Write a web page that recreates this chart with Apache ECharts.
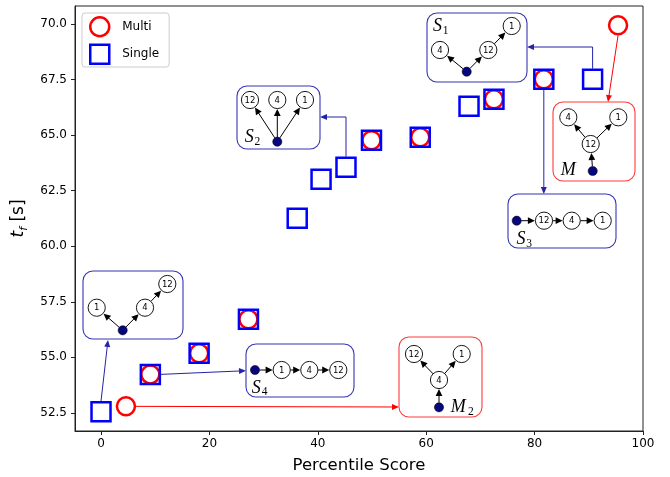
<!DOCTYPE html>
<html><head><meta charset="utf-8">
<script src="https://cdn.jsdelivr.net/npm/echarts@6/dist/echarts.min.js"></script>
<style>html,body{margin:0;padding:0;background:#fff}#c{width:670px;height:477px}</style>
</head><body><div id="c"></div>
<script>
// ---- data ----
const singleX = [0, 9.1, 18.1, 27.2, 36.2, 40.6, 45.2, 49.9, 58.9, 67.9, 72.5, 81.7, 90.7];
const singleY = [52.55, 54.23, 55.18, 56.71, 61.26, 63.02, 63.56, 64.77, 64.91, 66.31, 66.62, 67.52, 67.52];
const multiX = [4.6, 9.1, 18.1, 27.2, 49.9, 58.9, 72.5, 81.7, 95.4];
const multiY = [52.79, 54.23, 55.18, 56.71, 64.77, 64.91, 66.62, 67.52, 69.95];
const xTicks = [0, 20, 40, 60, 80, 100];
const yTicks = [52.5, 55, 57.5, 60, 62.5, 65, 67.5, 70];

// ---- inset layout (annotation graphics, pixel layout) ----
const insets = [
  {box:[83,271,100,68], kind:'s', label:null,
   nodes:{d:[39.7,59.3], n1:[13.7,36.7], n4:[62,36.7], n12:[84.3,13]},
   edges:[['d','n1'],['d','n4'],['n4','n12']]},
  {box:[237,86,83,63], kind:'s', label:['S','2'], lab:[12.2,51.5],
   nodes:{n12:[13,14], n4:[40.3,14], n1:[68,14], d:[40.3,55.7]},
   edges:[['d','n12'],['d','n4'],['d','n1']]},
  {box:[246,344,108,53], kind:'s', label:['S','4'], lab:[10.3,43.8],
   nodes:{d:[9,26], n1:[35.7,26], n4:[63.3,26], n12:[92.3,26]},
   edges:[['d','n1'],['n1','n4'],['n4','n12']]},
  {box:[399,337,83,80], kind:'m', label:['M','2'], lab:[59.3,70.2],
   nodes:{n12:[15,17], n1:[62.7,17], n4:[40,43], d:[40,70.3]},
   edges:[['d','n4'],['n4','n12'],['n4','n1']]},
  {box:[508,194,108,54], kind:'s', label:['S','3'], lab:[13,45.7],
   nodes:{d:[8.7,26.7], n12:[36,26.7], n4:[63.7,26.7], n1:[94.7,26.7]},
   edges:[['d','n12'],['n12','n4'],['n4','n1']]},
  {box:[427,13,100,69], kind:'s', label:['S','1'], lab:[10.5,13.2],
   nodes:{n4:[13,37], n12:[61.3,37], n1:[84.7,13], d:[39.7,58.7]},
   edges:[['d','n4'],['d','n12'],['n12','n1']]},
  {box:[553,102,82,79], kind:'m', label:['M',''], lab:[15.3,68],
   nodes:{n4:[15.3,15.3], n1:[65.3,15.3], n12:[37.7,42], d:[39.7,69]},
   edges:[['d','n12'],['n12','n4'],['n12','n1']]}
];
const connectors = [
  {s:0, i:0, off:[0,-10.5], pts:[[108,340]], c:'b'},
  {s:0, i:6, off:[0,-10.5], pts:[['sx',117],[320,117]], c:'b'},
  {s:0, i:1, off:[10.5,0], pts:[[246,370.7]], c:'b'},
  {s:1, i:0, off:[10,0], pts:[[399,407]], c:'r'},
  {s:0, i:11, off:[0,10.5], pts:[['sx',194]], c:'b'},
  {s:0, i:12, off:[0,-10.5], pts:[['sx',47],[527,47]], c:'b'},
  {s:1, i:8, off:[0,10], pts:[[608,102]], c:'r'}
];

const FONT = '"DejaVu Sans", sans-serif';
const chart = echarts.init(document.getElementById('c'), null, {renderer:'canvas'});
const axisCol = '#222';
chart.setOption({
  animation:false,
  backgroundColor:'#fff',
  grid:{left:75, right:27, top:6, bottom:46, show:true, borderColor:axisCol, borderWidth:1,
    containLabel:false, outerBoundsMode:'none'},
  legend:{left:82, top:13, orient:'vertical', itemWidth:19, itemHeight:19, itemGap:6,
    padding:[3,10,2,7], borderColor:'#cccccc', borderWidth:1, borderRadius:3, backgroundColor:'#fff',
    textStyle:{fontSize:12, fontFamily:FONT, color:'#000', padding:[0,0,0,8]},
    itemStyle:{borderWidth:2.5}, data:['Multi','Single']},
  xAxis:{type:'value', min:-4.8, max:100,
    axisLine:{show:true, onZero:false, lineStyle:{color:axisCol}},
    axisTick:{show:true, length:4, customValues:xTicks, lineStyle:{color:axisCol}},
    axisLabel:{customValues:xTicks, margin:7, fontSize:12, color:'#000', fontFamily:FONT},
    splitLine:{show:false},
    name:'Percentile Score', nameLocation:'middle', nameGap:26,
    nameTextStyle:{fontSize:16.5, fontFamily:FONT, color:'#000'}},
  yAxis:{type:'value', min:51.68, max:70.82,
    axisLine:{show:true, onZero:false, lineStyle:{color:axisCol}},
    axisTick:{show:true, length:4, customValues:yTicks, lineStyle:{color:axisCol}},
    axisLabel:{customValues:yTicks, margin:8, fontSize:12, color:'#000', fontFamily:FONT,
      formatter:v=>v.toFixed(1)},
    splitLine:{show:false},
    name:'{t|t}{f|f}{s| [s]}', nameLocation:'middle', nameGap:36,
    nameTextStyle:{fontSize:16, fontFamily:FONT, color:'#000',
      rich:{t:{fontStyle:'italic', fontSize:17, fontFamily:FONT, color:'#000', lineHeight:22},
            f:{fontStyle:'italic', fontSize:11, fontFamily:FONT, color:'#000', lineHeight:9, verticalAlign:'bottom'},
            s:{fontSize:17, fontFamily:FONT, color:'#000', lineHeight:22}}}},
  series:[
    {name:'Multi', type:'scatter', data:multiX.map((x,i)=>[x,multiY[i]]), symbol:'circle', symbolSize:18,
     itemStyle:{color:'rgba(255,255,255,0)', borderColor:'#ff0000', borderWidth:2.5, opacity:1}, z:2,
     emphasis:{disabled:true}},
    {name:'Single', type:'scatter', data:singleX.map((x,i)=>[x,singleY[i]]), symbol:'rect', symbolSize:19,
     itemStyle:{color:'rgba(255,255,255,0)', borderColor:'#0000ff', borderWidth:2.5, opacity:1}, z:3,
     emphasis:{disabled:true}}
  ]
});

// ---- annotation graphics ----
const BLUE_BOX = '#3535b5', RED_BOX = '#ff3a3a', BLUE_LN = '#2424a6', RED_LN = '#ff0000', NAVY = '#06067e';
function arrow(x1,y1,x2,y2,color,lw,hl,hw,z){
  const dx=x2-x1, dy=y2-y1, L=Math.hypot(dx,dy), ux=dx/L, uy=dy/L;
  const bx=x2-ux*hl, by=y2-uy*hl;
  return [
    {type:'line', silent:true, z, shape:{x1,y1,x2:bx+ux*1,y2:by+uy*1}, style:{stroke:color, lineWidth:lw}},
    {type:'polygon', silent:true, z, shape:{points:[[x2,y2],[bx-uy*hw,by+ux*hw],[bx+uy*hw,by-ux*hw]]}, style:{fill:color}}
  ];
}
const els = [];
const NR = 8.6, DR = 4.6;
insets.forEach(ins=>{
  const [bx,by,bw,bh] = ins.box;
  els.push({type:'rect', silent:true, z:20, shape:{x:bx,y:by,width:bw,height:bh,r:10},
    style:{fill:'#fff', stroke: ins.kind==='m'?RED_BOX:BLUE_BOX, lineWidth:1.1}});
  ins.edges.forEach(([a,b])=>{
    const pa=ins.nodes[a], pb=ins.nodes[b];
    const x1=bx+pa[0], y1=by+pa[1], x2=bx+pb[0], y2=by+pb[1];
    const L=Math.hypot(x2-x1,y2-y1), ux=(x2-x1)/L, uy=(y2-y1)/L;
    const ra = a==='d'?DR:NR, rb = b==='d'?DR:NR;
    els.push(...arrow(x1+ux*ra, y1+uy*ra, x2-ux*(rb+0.5), y2-uy*(rb+0.5), '#000', 1, 7, 3.4, 21));
  });
  Object.keys(ins.nodes).forEach(k=>{
    const p=ins.nodes[k];
    if(k==='d'){
      els.push({type:'circle', silent:true, z:22, shape:{cx:bx+p[0], cy:by+p[1], r:DR}, style:{fill:NAVY, stroke:'#000', lineWidth:0.5}});
    } else {
      els.push({type:'circle', silent:true, z:22, shape:{cx:bx+p[0], cy:by+p[1], r:NR}, style:{fill:'#fff', stroke:'#000', lineWidth:0.9}});
      els.push({type:'text', silent:true, z:23, x:bx+p[0], y:by+p[1]+0.5,
        style:{text:k.slice(1), fill:'#000', font:'8.5px "DejaVu Sans"', align:'center', verticalAlign:'middle'}});
    }
  });
  if(ins.label){
    const lx=bx+ins.lab[0], ly=by+ins.lab[1];
    els.push({type:'text', silent:true, z:23, x:lx, y:ly,
      style:{text:ins.label[0], fill:'#000', font:'italic 18px "Liberation Serif"', align:'center', verticalAlign:'middle'}});
    if(ins.label[1]){
      const off = ins.label[0]==='M' ? 12.5 : 8.2;
      els.push({type:'text', silent:true, z:23, x:lx+off, y:ly+4.5,
        style:{text:ins.label[1], fill:'#000', font:'11.5px "Liberation Serif"', align:'center', verticalAlign:'middle'}});
    }
  }
});
const seriesXY = [[singleX,singleY],[multiX,multiY]];
connectors.forEach(cn=>{
  const arr = seriesXY[cn.s];
  const p = chart.convertToPixel({gridIndex:0}, [arr[0][cn.i], arr[1][cn.i]]);
  const start = [p[0]+cn.off[0], p[1]+cn.off[1]];
  const pts = [start].concat(cn.pts.map(q=>[q[0]==='sx'?start[0]:q[0], q[1]]));
  const col = cn.c==='r'?RED_LN:BLUE_LN;
  if(pts.length>2){
    els.push({type:'polyline', silent:true, z:15, shape:{points:pts.slice(0,-1)}, style:{stroke:col, lineWidth:1, fill:null}});
  }
  const a=pts[pts.length-2], b=pts[pts.length-1];
  els.push(...arrow(a[0],a[1],b[0],b[1],col,1,7,3,15));
});
chart.setOption({graphic:{elements:els}});
</script>
</body></html>
